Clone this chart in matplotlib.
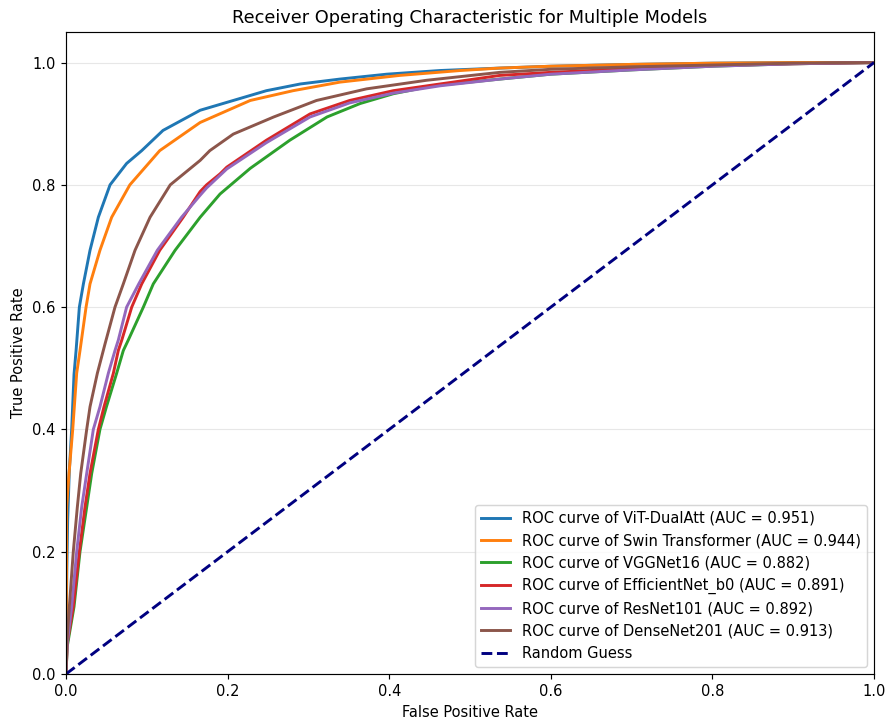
import matplotlib
matplotlib.use("Agg")
import matplotlib.pyplot as plt

models = ["ViT-DualAtt", "Swin Transformer", "VGGNet16", "EfficientNet_b0", "ResNet101", "DenseNet201"]
aucs = [0.951, 0.944, 0.882, 0.891, 0.892, 0.913]
colors = ["#1f77b4", "#ff7f0e", "#2ca02c", "#d62728", "#9467bd", "#8c564b"]

vit_fpr = [0.0, 0.0005, 0.001, 0.002, 0.004, 0.007, 0.0099, 0.0125, 0.0165, 0.0215, 0.0297, 0.040, 0.0545, 0.075, 0.0937, 0.12, 0.166, 0.248, 0.290, 0.339, 0.397, 0.463, 0.537, 0.6, 0.7, 0.8, 0.9, 1.0]
vit_tpr = [0.0, 0.10, 0.17, 0.25, 0.33, 0.40, 0.49, 0.53, 0.60, 0.638, 0.693, 0.747, 0.80, 0.835, 0.856, 0.889, 0.922, 0.954, 0.965, 0.973, 0.981, 0.987, 0.991, 0.994, 0.997, 0.999, 1.0, 1.0]

swin_fpr = [0.0, 0.0003, 0.0006, 0.0008, 0.0037, 0.0083, 0.0132, 0.0173, 0.0248, 0.0297, 0.042, 0.0565, 0.079, 0.116, 0.166, 0.228, 0.281, 0.339, 0.413, 0.488, 0.537, 0.6, 0.7, 0.8, 0.9, 1.0]
swin_tpr = [0.0, 0.08, 0.15, 0.273, 0.328, 0.40, 0.492, 0.529, 0.60, 0.638, 0.693, 0.747, 0.80, 0.856, 0.902, 0.938, 0.954, 0.968, 0.979, 0.987, 0.991, 0.994, 0.997, 0.999, 1.0, 1.0]

vgg_fpr = [0.0, 0.0015, 0.0099, 0.0173, 0.0256, 0.0318, 0.042, 0.050, 0.0627, 0.0709, 0.077, 0.0957, 0.108, 0.135, 0.166, 0.1906, 0.228, 0.277, 0.323, 0.364, 0.405, 0.454, 0.537, 0.6, 0.7, 0.8, 0.9, 1.0]
vgg_tpr = [0.0, 0.045, 0.11, 0.20, 0.273, 0.328, 0.40, 0.437, 0.492, 0.529, 0.546, 0.60, 0.638, 0.693, 0.747, 0.785, 0.827, 0.873, 0.911, 0.933, 0.949, 0.962, 0.973, 0.981, 0.988, 0.994, 0.998, 1.0]

eff_fpr = [0.0, 0.0015, 0.009, 0.0165, 0.0235, 0.0297, 0.040, 0.047, 0.0586, 0.0647, 0.069, 0.0813, 0.0937, 0.116, 0.145, 0.166, 0.174, 0.1906, 0.199, 0.248, 0.302, 0.351, 0.405, 0.463, 0.537, 0.6, 0.7, 0.8, 0.9, 1.0]
eff_tpr = [0.0, 0.05, 0.11, 0.20, 0.273, 0.328, 0.40, 0.437, 0.492, 0.529, 0.546, 0.60, 0.638, 0.693, 0.747, 0.789, 0.80, 0.818, 0.829, 0.873, 0.916, 0.938, 0.954, 0.965, 0.979, 0.984, 0.990, 0.995, 0.998, 1.0]

res_fpr = [0.0, 0.0015, 0.007, 0.0132, 0.0194, 0.0256, 0.0338, 0.042, 0.0524, 0.0606, 0.0647, 0.075, 0.090, 0.113, 0.143, 0.166, 0.174, 0.199, 0.248, 0.302, 0.351, 0.405, 0.463, 0.537, 0.6, 0.7, 0.8, 0.9, 1.0]
res_tpr = [0.0, 0.05, 0.11, 0.20, 0.273, 0.328, 0.40, 0.437, 0.492, 0.529, 0.546, 0.60, 0.638, 0.693, 0.747, 0.783, 0.795, 0.826, 0.869, 0.911, 0.934, 0.950, 0.962, 0.973, 0.981, 0.988, 0.994, 0.998, 1.0]

dense_fpr = [0.0, 0.0012, 0.0041, 0.009, 0.014, 0.0182, 0.0256, 0.0297, 0.0388, 0.0483, 0.0606, 0.0709, 0.0854, 0.104, 0.129, 0.166, 0.178, 0.207, 0.257, 0.310, 0.372, 0.446, 0.537, 0.6, 0.7, 0.8, 0.9, 1.0]
dense_tpr = [0.0, 0.055, 0.11, 0.20, 0.273, 0.328, 0.40, 0.437, 0.492, 0.540, 0.60, 0.638, 0.693, 0.747, 0.80, 0.840, 0.856, 0.883, 0.911, 0.938, 0.957, 0.971, 0.984, 0.989, 0.993, 0.996, 0.999, 1.0]

fprs = [vit_fpr, swin_fpr, vgg_fpr, eff_fpr, res_fpr, dense_fpr]
tprs = [vit_tpr, swin_tpr, vgg_tpr, eff_tpr, res_tpr, dense_tpr]

DPI = 105
fig = plt.figure(figsize=(885 / DPI, 719 / DPI), dpi=DPI)
ax = fig.add_axes([0.0746, 0.0626, 0.9130, 0.8929])

for name, auc, c, f, t in zip(models, aucs, colors, fprs, tprs):
    ax.plot(f, t, color=c, lw=2, label=f"ROC curve of {name} (AUC = {auc:.3f})")

ax.plot([0, 1], [0, 1], color="navy", lw=2, linestyle="--", label="Random Guess")

ax.set_xlim(0.0, 1.0)
ax.set_ylim(0.0, 1.05)
ax.grid(axis="y", color="#b0b0b0", alpha=0.3)
ax.set_xlabel("False Positive Rate")
ax.set_ylabel("True Positive Rate")
ax.set_title("Receiver Operating Characteristic for Multiple Models", fontsize=12.2)
ax.legend(loc="lower right")

fig.savefig("out.png", dpi=DPI)
